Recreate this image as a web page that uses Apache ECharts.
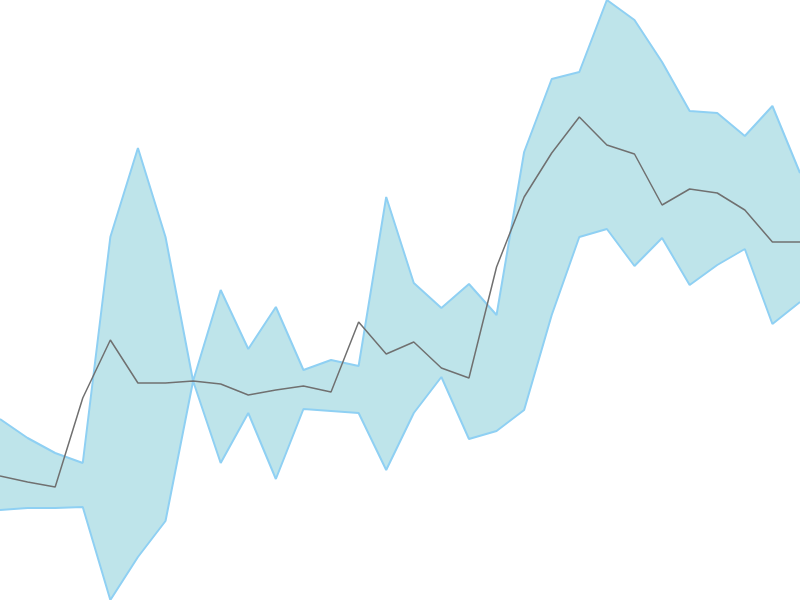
<!DOCTYPE html>
<html>
<head>
<meta charset="utf-8">
<script src="https://cdn.jsdelivr.net/npm/echarts@6/dist/echarts.min.js"></script>
<style>html,body{margin:0;padding:0;background:#fff;}#main{width:800px;height:600px;}</style>
</head>
<body>
<div id="main"></div>
<script>
var categories = ['1','2','3','4','5','6','7','8','9','10','11','12','13','14','15','16','17','18','19','20','21','22','23','24','25','26','27','28','29','30'];
var upperValues = [18.1,16.2,14.7,13.7,36.3,45.2,36.3,21.9,31.0,25.1,29.3,23.0,24.0,23.4,40.3,31.7,29.2,31.6,28.5,44.8,52.1,52.8,60.0,58.0,53.8,48.9,48.7,46.4,49.4,42.7];
var lowerValues = [9.0,9.2,9.2,9.3,0.0,4.3,7.9,21.9,13.7,18.7,12.1,19.1,18.9,18.7,13.0,18.7,22.3,16.1,16.9,19.0,28.5,36.3,37.1,33.4,36.2,31.5,33.5,35.1,27.6,29.8];
var midValues = [12.4,11.8,11.3,20.2,26.0,21.7,21.7,21.9,21.6,20.5,21.0,21.4,20.8,27.8,24.6,25.8,23.2,22.2,33.3,40.3,44.7,48.3,45.5,44.6,39.5,41.1,40.7,39.0,35.8,35.8];

var bandWidth = upperValues.map(function(u, i){ return Math.round((u - lowerValues[i]) * 10) / 10; });

var chart = echarts.init(document.getElementById('main'));
var bandLine = '#8fd0f3';
chart.setOption({
  animation: false,
  grid: {left: 0, right: 0, top: 0, bottom: 0},
  xAxis: {type: 'category', data: categories, boundaryGap: false, show: false},
  yAxis: {type: 'value', min: 0, max: 60, show: false, splitLine: {show: false}},
  series: [
    {type: 'line', data: lowerValues, stack: 'band', symbol: 'none', lineStyle: {opacity: 0}, silent: true},
    {type: 'line', data: bandWidth, stack: 'band', symbol: 'none', lineStyle: {opacity: 0}, areaStyle: {color: '#bee4ea', opacity: 1}, silent: true},
    {type: 'line', data: upperValues, symbol: 'none', lineStyle: {color: bandLine, width: 2}},
    {type: 'line', data: lowerValues, symbol: 'none', lineStyle: {color: bandLine, width: 2}},
    {type: 'line', data: midValues, symbol: 'none', lineStyle: {color: '#707070', width: 1.5}}
  ]
});
</script>
</body>
</html>
